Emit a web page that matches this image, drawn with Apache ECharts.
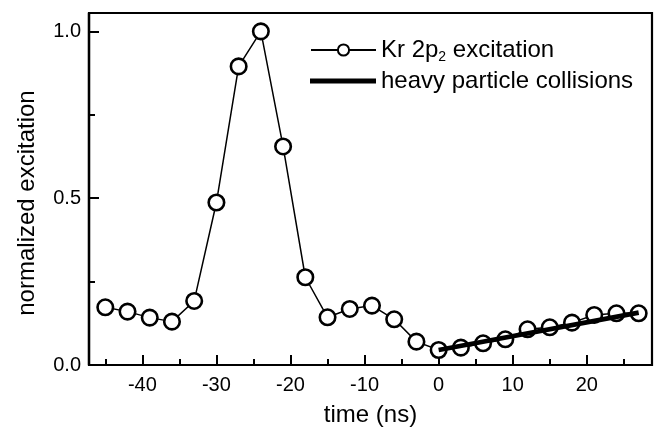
<!DOCTYPE html>
<html>
<head>
<meta charset="utf-8">
<script src="https://cdn.jsdelivr.net/npm/echarts@6/dist/echarts.min.js"></script>
<style>html,body{margin:0;padding:0;background:#fff}#c{width:659px;height:432px}</style>
</head>
<body>
<div id="c"></div>
<script>
const times = [-45,-42,-39,-36,-33,-30,-27,-24,-21,-18,-15,-12,-9,-6,-3,0,3,6,9,12,15,18,21,24,27];
const krValues = [0.173,0.160,0.142,0.130,0.192,0.487,0.895,1.0,0.655,0.263,0.143,0.168,0.178,0.137,0.070,0.045,0.052,0.065,0.077,0.107,0.113,0.127,0.150,0.155,0.155];
const heavyTimes = [0,27];
const heavyValues = [0.045,0.157];
const xMajorTicks = [-40,-30,-20,-10,0,10,20];
const xMinorTicks = [-45,-35,-25,-15,-5,5,15,25];
const yMajorTicks = [0,0.5,1.0];
const yMinorTicks = [0.25,0.75];

const FONT = '"Liberation Sans", Arial, Helvetica, sans-serif';
const X_MIN = -47.2, X_MAX = 28.8, Y_MIN = 0, Y_MAX = 1.055;

const chart = echarts.init(document.getElementById('c'), null, {renderer:'canvas'});

function xAxisDef(ticks, len, showLabels, name) {
  return {
    type:'value', min:X_MIN, max:X_MAX, position:'bottom',
    name: name || '', nameLocation:'middle', nameGap:38,
    nameTextStyle:{fontFamily:FONT, fontSize:24, color:'#000', letterSpacing:-0.3},
    axisLine:{show:true, onZero:false, lineStyle:{color:'#000', width:2.2}},
    axisTick:{show:true, inside:true, length:len, lineStyle:{color:'#000', width:2}, customValues:ticks},
    axisLabel:{show:showLabels, customValues:ticks, margin:10, fontFamily:FONT, fontSize:20, color:'#000', letterSpacing:-0.3},
    splitLine:{show:false}
  };
}
function yAxisDef(ticks, len, showLabels, name) {
  return {
    type:'value', min:Y_MIN, max:Y_MAX, position:'left',
    name: name || '', nameLocation:'middle', nameGap:50,
    nameTextStyle:{fontFamily:FONT, fontSize:24, color:'#000', letterSpacing:-0.5, padding:[0,28,0,0]},
    axisLine:{show:true, onZero:false, lineStyle:{color:'#000', width:2.2}},
    axisTick:{show:true, inside:true, length:len, lineStyle:{color:'#000', width:2}, customValues:ticks},
    axisLabel:{show:showLabels, customValues:ticks, margin:8, fontFamily:FONT, fontSize:20, color:'#000', letterSpacing:-0.3,
      formatter:v => v.toFixed(1)},
    splitLine:{show:false}
  };
}

const legendText = {fontFamily:FONT, fontSize:24, lineHeight:28, color:'#000', letterSpacing:-0.45,
  rich:{sub:{fontFamily:FONT, fontSize:14, color:'#000', verticalAlign:'bottom', lineHeight:28, padding:[12,0,0,0]}}};

chart.setOption({
  animation:false,
  backgroundColor:'#fff',
  grid:{left:89, right:7, top:13, bottom:67, show:true, borderColor:'#000', borderWidth:2.2, backgroundColor:'transparent'},
  xAxis:[
    xAxisDef(xMajorTicks, 10, true, 'time (ns)'),
    xAxisDef(xMinorTicks, 6, false)
  ],
  yAxis:[
    yAxisDef(yMajorTicks, 10, true, 'normalized excitation'),
    yAxisDef(yMinorTicks, 6, false)
  ],
  legend:[
    {data:['kr'], left:310, top:36, padding:0, itemWidth:65, itemHeight:14, itemGap:0,
     textStyle:legendText, formatter:() => 'Kr 2p{sub|2} excitation'},
    {data:[{name:'heavy', icon:'rect'}], left:310, top:67, padding:0, itemWidth:66, itemHeight:5, itemGap:0,
     textStyle:legendText, formatter:() => 'heavy particle collisions'}
  ],
  series:[
    {
      name:'kr', type:'line', xAxisIndex:0, yAxisIndex:0,
      data: times.map((t,i) => [t, krValues[i]]),
      symbol:'circle', symbolSize:15.5,
      lineStyle:{color:'#000', width:1.5},
      itemStyle:{color:'#fff', borderColor:'#000', borderWidth:2.6},
      z:3
    },
    {
      name:'heavy', type:'line', xAxisIndex:0, yAxisIndex:0,
      data: heavyTimes.map((t,i) => [t, heavyValues[i]]),
      symbol:'none', showSymbol:false,
      lineStyle:{color:'#000', width:4.8},
      itemStyle:{color:'#000'},
      z:4
    }
  ]
});
</script>
</body>
</html>
